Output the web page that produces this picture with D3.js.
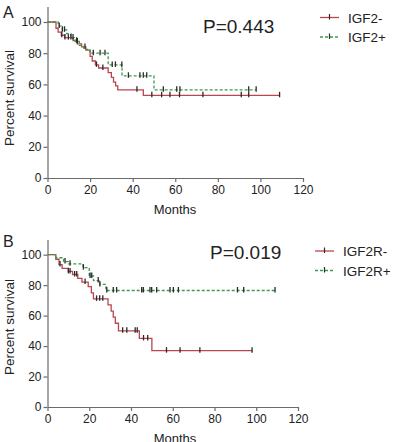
<!DOCTYPE html>
<html>
<head>
    <meta charset="utf-8">
    <script src="https://d3js.org/d3.v7.min.js"></script>
    <style type="text/css">
        html, body { margin: 0; padding: 0; background: #fff; }
        svg text { font-family: "Liberation Sans", Arial, sans-serif; fill: #222; }
        .axis path, .axis line { stroke: #6b6b6b; stroke-width: 1.2; }
        .axis text { font-size: 12px; }
    </style>
</head>
<body>
<svg id="chart" width="410" height="442"></svg>
<script type="text/javascript">
    var xTicks = [0, 20, 40, 60, 80, 100, 120];
    var yTicks = [0, 20, 40, 60, 80, 100];

    // panel A: IGF2
    var aNegTimes = [4, 5, 6.5, 8, 12, 14, 16, 18, 20, 21, 22.5, 24, 28.5, 30, 31, 32, 33, 45];
    var aNegSurv = [96, 93.5, 91.5, 90, 88, 86, 84, 82, 78, 75, 72.5, 70.5, 67.5, 64.5, 61.5, 59, 56.5, 53];
    var aNegCens = [6.7, 8.2, 9.8, 13.7, 17.6, 23, 26, 42, 49, 53.6, 57.5, 62, 73, 91, 94.5, 109];
    var aPosTimes = [5, 7, 9, 11, 13, 15, 17, 20, 28.5, 35, 50];
    var aPosSurv = [97.5, 95, 92.5, 90, 87.5, 85, 82.5, 80, 72.5, 65.5, 56.5];
    var aPosCens = [5.5, 7, 8, 11, 12, 14, 21.5, 24.7, 27, 30.4, 31.9, 34.9, 38, 43.4, 45, 46.6, 54.4, 60.7, 62.2, 94.5, 98];

    // panel B: IGF2R
    var bNegTimes = [4, 5.5, 7, 10, 12, 14.5, 16.5, 19.5, 21, 22, 29, 30.5, 31.5, 32.5, 34, 44, 50];
    var bNegSurv = [97, 93.5, 91, 89, 87, 84.5, 82, 79, 75, 71, 67, 63, 59, 55, 50, 45, 37];
    var bNegCens = [6, 10, 10.8, 13, 14, 18, 23.5, 25, 26.5, 36, 38, 42, 43, 46, 48, 57, 63.5, 73, 98];
    var bPosTimes = [4, 7.7, 10, 17, 20, 22, 25, 28];
    var bPosSurv = [98, 95.5, 94, 91.5, 86, 83, 80.5, 76.5];
    var bPosCens = [8.4, 10.8, 17.2, 20.4, 21.2, 24.3, 25.1, 28.4, 31.5, 33.1, 45.1, 45.9, 49.1, 49.9, 52.3, 58.7, 60.3, 62.7, 91, 94, 109];

    var svg = d3.select("#chart");

    function survAt(times, surv, t) {
        var s = 100;
        for (var i = 0; i < times.length; i++) {
            if (times[i] <= t) s = surv[i];
        }
        return s;
    }

    function drawPanel(p) {
        var x = d3.scaleLinear().domain([0, 120]).range([47.5, p.xEnd]);
        var y = d3.scaleLinear().domain([0, 110]).range([p.yZero, p.yZero - 1.1 * p.yHundred]);

        var g = svg.append("g");

        g.append("g").attr("class", "axis")
            .attr("transform", "translate(0," + p.yZero + ")")
            .call(d3.axisBottom(x).tickValues(xTicks).tickSize(4).tickSizeOuter(0).tickPadding(3));
        g.append("g").attr("class", "axis")
            .attr("transform", "translate(47.5,0)")
            .call(d3.axisLeft(y).tickValues(yTicks).tickSize(4).tickSizeOuter(0).tickPadding(2));

        g.append("text").attr("x", 175).attr("y", p.yZero + 36)
            .attr("text-anchor", "middle").style("font-size", "13px").text("Months");
        g.append("text")
            .attr("transform", "translate(14," + (p.yZero - 80) + ") rotate(-90)")
            .attr("text-anchor", "middle").style("font-size", "13.5px").text("Percent survival");
        g.append("text").attr("x", 3).attr("y", p.yZero - 160)
            .style("font-size", "16px").text(p.label);
        g.append("text").attr("x", p.pX).attr("y", p.pY)
            .style("font-size", "19px").text(p.pText);

        var line = d3.line().curve(d3.curveStepAfter)
            .x(function(d) { return x(d[0]); })
            .y(function(d) { return y(d[1]); });

        p.groups.forEach(function(grp, gi) {
            var pts = [[0, 100]];
            grp.times.forEach(function(t, i) { pts.push([t, grp.surv[i]]); });
            var last = d3.max(grp.cens);
            pts.push([last, grp.surv[grp.surv.length - 1]]);

            g.append("path").datum(pts).attr("d", line)
                .attr("fill", "none").attr("stroke", grp.color).attr("stroke-width", 1.3)
                .attr("stroke-dasharray", grp.dash);

            g.selectAll(null).data(grp.cens).enter().append("line")
                .attr("x1", function(d) { return x(d); })
                .attr("x2", function(d) { return x(d); })
                .attr("y1", function(d) { return y(survAt(grp.times, grp.surv, d)) - 3.5; })
                .attr("y2", function(d) { return y(survAt(grp.times, grp.surv, d)) + 2; })
                .attr("stroke", "#2a2a2a").attr("stroke-width", 1.3);

            var ly = p.legY + gi * 19.5;
            g.append("line").attr("x1", p.legX).attr("x2", p.legX + 19)
                .attr("y1", ly).attr("y2", ly)
                .attr("stroke", grp.color).attr("stroke-width", 1.3)
                .attr("stroke-dasharray", grp.dash);
            g.append("line").attr("x1", p.legX + 9.5).attr("x2", p.legX + 9.5)
                .attr("y1", ly - 3.5).attr("y2", ly + 2)
                .attr("stroke", "#2a2a2a").attr("stroke-width", 1.2);
            g.append("text").attr("x", p.legX + 28).attr("y", ly + 5)
                .style("font-size", "13.5px").text(grp.name);
        });
    }

    drawPanel({
        label: "A", xEnd: 303, yZero: 178, yHundred: 156,
        pText: "P=0.443", pX: 203, pY: 33, legX: 320, legY: 17.5,
        groups: [
            { name: "IGF2-", times: aNegTimes, surv: aNegSurv, cens: aNegCens, color: "#b8474f", dash: null },
            { name: "IGF2+", times: aPosTimes, surv: aPosSurv, cens: aPosCens, color: "#3c9a4c", dash: "3,2" }
        ]
    });

    drawPanel({
        label: "B", xEnd: 298, yZero: 407, yHundred: 152.3,
        pText: "P=0.019", pX: 210, pY: 259, legX: 315, legY: 251,
        groups: [
            { name: "IGF2R-", times: bNegTimes, surv: bNegSurv, cens: bNegCens, color: "#b8474f", dash: null },
            { name: "IGF2R+", times: bPosTimes, surv: bPosSurv, cens: bPosCens, color: "#3c9a4c", dash: "3,2" }
        ]
    });
</script>
</body>
</html>
